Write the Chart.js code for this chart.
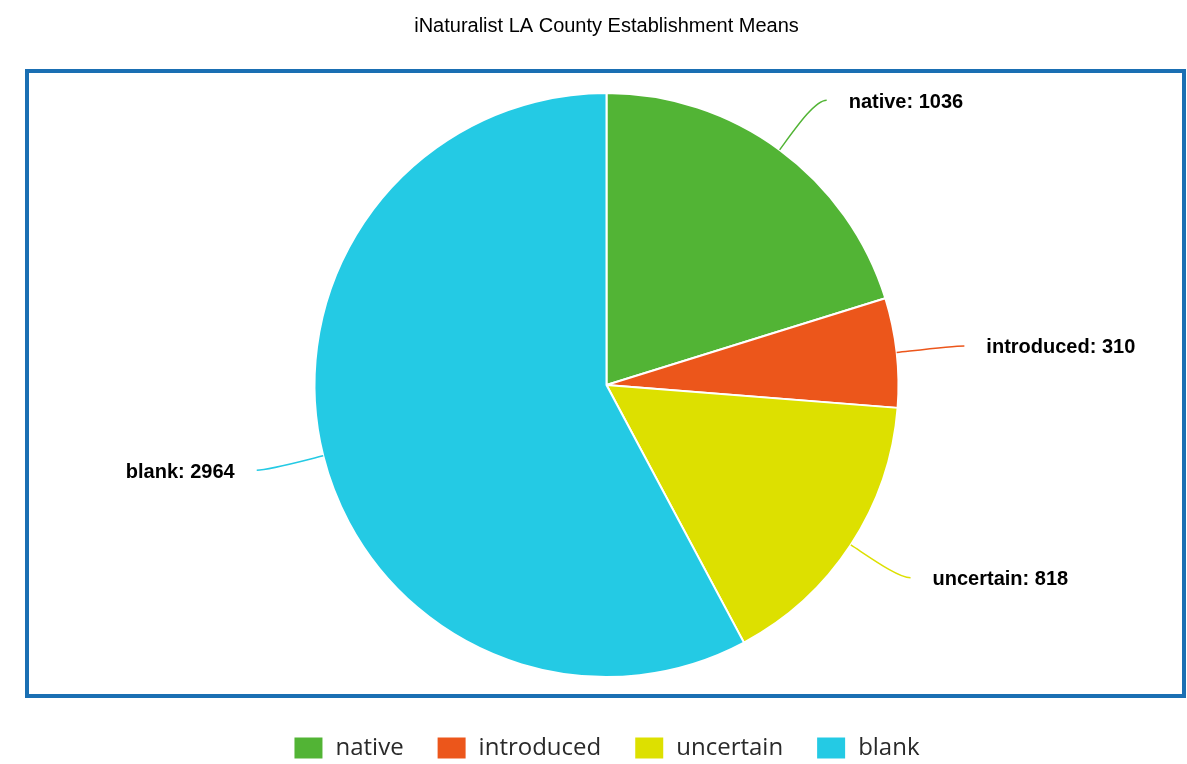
<!DOCTYPE html>
<html>
<head>
<meta charset="utf-8">
<title>iNaturalist LA County Establishment Means</title>
<script src="https://cdn.jsdelivr.net/npm/chart.js@4/dist/chart.umd.min.js"></script>
<style>
    html, body { margin: 0; padding: 0; background: #fff; overflow: hidden; }
    #wrap { width: 1187px; height: 764px; }
</style>
</head>
<body>
<div id="wrap"><canvas id="pie-chart"></canvas></div>
<script>
// Dados do gráfico
const categories = ["native", "introduced", "uncertain", "blank"];
const counts = [1036, 310, 818, 2964];
const colors = ["#52b435", "#ec561b", "#dde000", "#24cae4"];

// Moldura azul em volta da área da pizza
const framePlugin = {
    id: 'frame',
    beforeDraw(chart) {
        const ctx = chart.ctx;
        ctx.save();
        ctx.strokeStyle = '#1a6fb3';
        ctx.lineWidth = 4;
        ctx.strokeRect(27, 71, 1157, 625);
        ctx.restore();
    }
};

// Rótulos externos com linha de ligação curva
const calloutPlugin = {
    id: 'callouts',
    afterDatasetsDraw(chart) {
        const ctx = chart.ctx;
        const meta = chart.getDatasetMeta(0);
        meta.data.forEach((arc, i) => {
            const p = arc.getProps(['x', 'y', 'startAngle', 'endAngle', 'outerRadius'], true);
            const mid = (p.startAngle + p.endAngle) / 2;
            const cos = Math.cos(mid), sin = Math.sin(mid);
            const side = cos >= 0 ? 1 : -1;
            const x0 = p.x + cos * p.outerRadius;
            const y0 = p.y + sin * p.outerRadius;
            // ponto final puxado um pouco para a horizontal
            const elev = Math.asin(sin) * 0.975;
            const r2 = p.outerRadius + 68;
            const x2 = p.x + side * Math.cos(elev) * r2;
            const y2 = p.y + Math.sin(elev) * r2;

            ctx.save();
            ctx.strokeStyle = colors[i];
            ctx.lineWidth = 1.5;
            ctx.beginPath();
            ctx.moveTo(x0, y0);
            ctx.bezierCurveTo(x0 + cos * 26, y0 + sin * 26, x2 - side * 12, y2, x2, y2);
            ctx.stroke();

            ctx.fillStyle = '#000';
            ctx.font = 'bold 20px "Liberation Sans", Arial, sans-serif';
            ctx.textBaseline = 'middle';
            ctx.textAlign = side > 0 ? 'left' : 'right';
            ctx.fillText(categories[i] + ': ' + counts[i], x2 + side * 22, y2 + 2);
            ctx.restore();
        });
    }
};

new Chart(document.getElementById('pie-chart').getContext('2d'), {
    type: 'pie',
    data: {
        labels: categories,
        datasets: [{
            data: counts,
            backgroundColor: colors,
            borderColor: '#ffffff',
            borderWidth: 2,
            radius: 292
        }]
    },
    options: {
        responsive: true,
        maintainAspectRatio: false,
        animation: false,
        layout: { padding: { left: 26, right: 0, top: 0, bottom: -6 } },
        plugins: {
            title: {
                display: true,
                text: 'iNaturalist LA County Establishment Means',
                color: '#000',
                font: { family: '"Liberation Sans", Arial, sans-serif', size: 20, weight: 'normal' },
                padding: { top: 14, bottom: 29 }
            },
            legend: {
                position: 'bottom',
                labels: {
                    boxWidth: 30,
                    boxHeight: 23,
                    padding: 33,
                    color: '#2a2a2a',
                    font: { family: '"Open Sans", "Noto Sans", sans-serif', size: 24 }
                }
            },
            tooltip: { enabled: false }
        }
    },
    plugins: [framePlugin, calloutPlugin]
});
</script>
</body>
</html>
